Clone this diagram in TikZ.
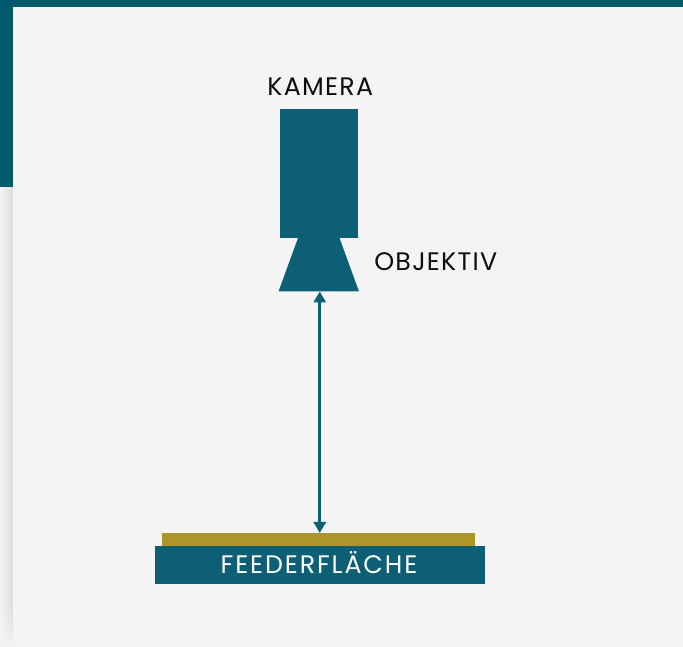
\documentclass[tikz,border=0pt]{standalone}
\usepackage{fontspec}
\newfontfamily\labelfont[LetterSpace=5]{Poppins}
\newfontfamily\feederfont[LetterSpace=7.5]{Poppins}
\usetikzlibrary{positioning, arrows.meta, shapes.geometric, fadings}
\definecolor{panelgray}{HTML}{F4F4F4}
\definecolor{framepetrol}{HTML}{005A6C}
\definecolor{partpetrol}{HTML}{0C5F74}
\definecolor{plategold}{HTML}{AD952A}
\tikzset{
    part/.style={fill=partpetrol, inner sep=0pt, outer sep=0pt},
    partlabel/.style={font=\labelfont\fontsize{14.4pt}{16pt}\selectfont, text=black!95, inner sep=0pt}
}

\begin{document}
\begin{tikzpicture}

    % PANEL
    \fill[panelgray] (0,0) rectangle (13.66,12.94);
    \useasboundingbox (0,0) rectangle (13.66,12.94);
    \shade[left color=panelgray, right color=black!13] (0,0) rectangle (0.26,9.2);
    \fill[panelgray, path fading=north] (0,-0.01) rectangle (0.26,0.7);
    \fill[framepetrol] (0,12.8) rectangle (13.66,12.94);
    \fill[framepetrol] (0,9.2) rectangle (0.26,12.94);

    % CAMERA
    \node[part, minimum width=1.57cm, minimum height=2.57cm] (camera) at (6.375,9.465) {};
    \node[part, trapezium, trapezium angle=70] (lens) at (6.375,7.645) {\phantom{\rule{0.83cm}{1.07cm}}};
    \node[partlabel, above=0.27cm of camera, xshift=0.03cm] (cameralabel) {KAMERA};
    \node[partlabel, anchor=west] (lenslabel) at (7.48,7.7) {OBJEKTIV};

    % FEEDER
    \node[part, minimum width=6.59cm, minimum height=0.76cm] (feeder) at (6.395,1.64) {};
    \node[font=\feederfont\fontsize{14.4pt}{16pt}\selectfont, text=white, inner sep=0pt, anchor=base] (feederlabel) at (6.38,1.466) {FEEDERFLÄCHE};
    \node[fill=plategold, inner sep=0pt, outer sep=0pt, minimum width=6.25cm, minimum height=0.26cm,
        above=0cm of feeder, xshift=-0.025cm] (plate) {};

    % DISTANCE
    \draw[{Triangle[length=0.22cm,width=0.24cm]}-{Triangle[length=0.22cm,width=0.24cm]}, partpetrol, line width=0.06cm]
        ([xshift=0.02cm]lens.south) -- ([xshift=0.02cm]lens.south |- plate.north);

\end{tikzpicture}
\end{document}
